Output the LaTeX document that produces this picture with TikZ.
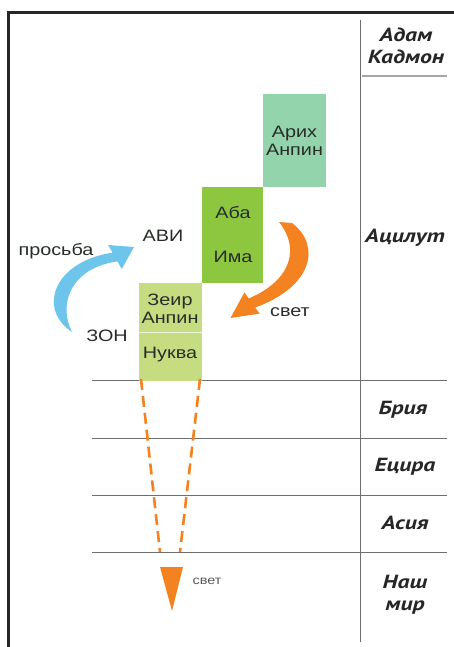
\documentclass[tikz,border=0pt]{standalone}
\usepackage{fontspec}
\setmainfont[FakeStretch=1.2]{Liberation Sans}
\newfontfamily\lblfont[FakeStretch=1.25]{PT Sans}
\definecolor{orng}{RGB}{245,130,32}
\definecolor{skyb}{RGB}{110,197,236}
\definecolor{arikhc}{RGB}{148,212,172}
\definecolor{abac}{RGB}{141,198,63}
\definecolor{zonc}{RGB}{198,220,128}
\definecolor{txtc}{RGB}{40,45,40}
\definecolor{rulec}{RGB}{110,110,110}
\tikzset{
  box/.style={draw=none, inner sep=0pt, align=center, text=txtc, font=\fontsize{16.5}{18}\selectfont},
  btxt/.style={inner sep=0pt, align=center, text=txtc, font=\fontsize{16.5}{18}\selectfont},
  side/.style={inner sep=0pt, align=center, text=black!85, font=\lblfont\bfseries\itshape\fontsize{19}{22}\selectfont},
  rule/.style={draw=rulec, line width=0.9pt},
  dashray/.style={draw=orng, line width=2.6pt, dash pattern=on 11pt off 6pt}
}
\begin{document}
\begin{tikzpicture}[x=1pt,y=-1pt]
\useasboundingbox (0,0) rectangle (454,647);
\fill[white] (0,0) rectangle (454,647);
% frame
\draw[line width=3pt, black!85] (8.5,647) -- (8.5,12.5) -- (454,12.5);
% rules
\coordinate (vtop) at (360,20);
\coordinate (vbot) at (360,642);
\draw[rule] (vtop) -- (vbot);
\draw[draw=black!35, line width=1.8pt] (362,76) -- (447,76);
\foreach \yy/\nm in {380/la,438/lb,495/lc,552/ld}{
  \coordinate (\nm l) at (92,\yy);
  \coordinate (\nm r) at (447,\yy);
  \draw[rule] (\nm l) -- (\nm r);
}
% side labels
\node[side] (adam) at (406,46) {Адам\\Кадмон};
\node[side] (atz) at (405,238) {Ацилут};
\node[side] (bria) at (403,410) {Брия};
\node[side] (yetz) at (405,467) {Ецира};
\node[side] (asia) at (405,523) {Асия};
\node[side] (nash) at (405,595) {Наш\\мир};
% boxes
\node[box, fill=arikhc, minimum width=63pt, minimum height=93pt] (arikh) at (294.5,140.5) {Арих\\Анпин};
\node[box, fill=abac, minimum width=61pt, minimum height=96pt] (abaima) at (232.5,235) {};
\node[box, fill=zonc, minimum width=63pt, minimum height=98pt] (zonbox) at (170.5,332) {};
\draw[draw=white!70!zonc, line width=0.8pt] (zonbox.west |- 0,332) -- (zonbox.east |- 0,332);
\node[btxt] (aba) at (233,213) {Аба};
\node[btxt] (ima) at (233,257) {Има};
\node[btxt] (zeir) at (170,309) {Зеир\\Анпин};
\node[btxt] (nukva) at (170,355) {Нуква};
% labels
\node[btxt] (avi) at (163,236) {АВИ};
\node[btxt] (zon) at (107,336) {ЗОН};
\node[btxt] (prosba) at (56,251) {просьба};
\node[btxt] (svet1) at (290,312) {свет};
% blue arrow (request)
\fill[skyb] (72,332) .. controls (38,310) and (52,262) .. (112.6,252.6)
  -- (108,245) -- (134,247) -- (121.8,269) -- (117.4,261.4)
  .. controls (70,268) and (58,305) .. (72,332) -- cycle;
% orange arrow (light)
\fill[orng] (279,222) -- (292,223)
  .. controls (322,246) and (312,287) .. (255.2,307.5)
  -- (259.6,313.6) -- (230.5,318) -- (244.4,292.4) -- (248.8,298.5)
  .. controls (292,280) and (300,248) .. (279,222) -- cycle;
% dashed rays
\coordinate (r1a) at (141,379);
\coordinate (r1b) at (160,552);
\coordinate (r2a) at (200,379);
\coordinate (r2b) at (180,552);
\draw[dashray] (r1a) -- (r1b);
\draw[dashray] (r2a) -- (r2b);
\fill[orng] (160,567) -- (183,567) -- (172,611) -- cycle;
\node[btxt, font=\fontsize{12}{14}\selectfont, text=black!65] (svet2) at (207,581) {свет};
\end{tikzpicture}
\end{document}
